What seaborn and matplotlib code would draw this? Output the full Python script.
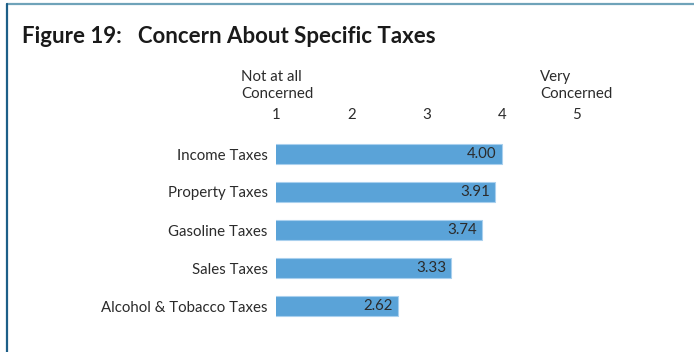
import matplotlib
matplotlib.use("Agg")
import matplotlib.pyplot as plt
import seaborn as sns
import pandas as pd
from matplotlib.lines import Line2D

categories = ["Income Taxes", "Property Taxes", "Gasoline Taxes", "Sales Taxes",
              "Alcohol & Tobacco Taxes"]
scores = [4.00, 3.91, 3.74, 3.33, 2.62]
scale_ticks = [1, 2, 3, 4, 5]
scale_low = "Not at all\nConcerned"
scale_high = "Very\nConcerned"
title = "Figure 19:   Concern About Specific Taxes"

sns.set_theme(style="white")
plt.rcParams["font.family"] = ["Lato", "DejaVu Sans"]

text_color = "#2b2b2b"
bar_color = "#5aa3d8"
fs = 10.8

df = pd.DataFrame({"category": categories, "score": scores})

fig = plt.figure(figsize=(6.94, 3.52), dpi=100)
ax = fig.add_axes([276 / 694, 1 - 325 / 352, (577 - 276) / 694, 190 / 352])

sns.barplot(data=df, x="score", y="category", orient="h", color=bar_color,
            saturation=1, width=0.53, ax=ax,
            edgecolor="#a9d0ee", linewidth=0.8)

# the scale runs from 1 to 5, so bars appear to start at 1
ax.set_xlim(1, 5)
ax.set_ylim(4.5, -0.5)
ax.xaxis.tick_top()
ax.set_xticks(scale_ticks)
ax.set_xticklabels([str(t) for t in scale_ticks])
ax.tick_params(axis="x", length=0, pad=9.5, labelsize=fs, labelcolor=text_color)
ax.tick_params(axis="y", length=0, pad=6, labelsize=fs, labelcolor=text_color)
ax.set_xlabel("")
ax.set_ylabel("")
for s in ax.spines.values():
    s.set_visible(False)

for i, v in enumerate(scores):
    ax.annotate(f"{v:.2f}", xy=(v, i), xytext=(-3.5, 0), textcoords="offset points",
                ha="right", va="center", fontsize=fs, color=text_color)

fig.text(241 / 694, 1 - 70 / 352, scale_low, ha="left", va="top",
         fontsize=fs, color=text_color, linespacing=1.3)
fig.text(540 / 694, 1 - 70 / 352, scale_high, ha="left", va="top",
         fontsize=fs, color=text_color, linespacing=1.3)

fig.text(22 / 694, 1 - 43 / 352, title, ha="left", va="baseline",
         fontsize=16, fontweight="bold", color="#1a1a1a")

# frame lines
fig.add_artist(Line2D([7 / 694, 1], [1 - 4 / 352, 1 - 4 / 352],
                      transform=fig.transFigure, color="#6fa3b9", lw=1.6))
fig.add_artist(Line2D([7 / 694, 7 / 694], [1 - 4 / 352, 0],
                      transform=fig.transFigure, color="#1d5f88", lw=1.6))

fig.savefig("out.png", dpi=100)
